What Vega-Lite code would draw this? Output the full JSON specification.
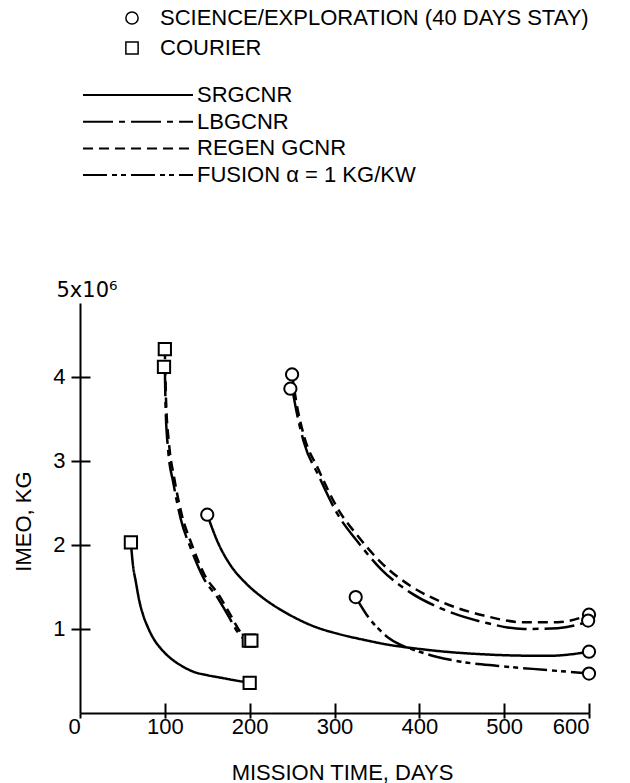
{
  "$schema": "https://vega.github.io/schema/vega-lite/v6.json",
  "autosize": "none",
  "width": 509,
  "height": 410,
  "padding": {"left": 80, "top": 303, "right": 41, "bottom": 70},
  "background": "white",
  "config": {
    "view": {"stroke": null},
    "font": "Liberation Sans",
    "axis": {
      "grid": false,
      "domainColor": "black",
      "domainWidth": 2,
      "tickColor": "black",
      "tickWidth": 2,
      "labelColor": "black",
      "titleColor": "black",
      "labelFont": "Liberation Sans",
      "titleFont": "Liberation Sans",
      "labelFontSize": 22,
      "titleFontSize": 22,
      "titleFontWeight": "normal"
    },
    "legend": {
      "labelFont": "Liberation Sans",
      "labelFontSize": 22,
      "labelColor": "black",
      "labelLimit": 0,
      "padding": 0
    }
  },
  "datasets": {
    "curves": [
      {"series": "C-SR", "engine": "SRGCNR", "days": 60, "imeo": 2.03},
      {"series": "C-SR", "engine": "SRGCNR", "days": 62, "imeo": 1.8},
      {"series": "C-SR", "engine": "SRGCNR", "days": 66, "imeo": 1.55},
      {"series": "C-SR", "engine": "SRGCNR", "days": 70, "imeo": 1.33},
      {"series": "C-SR", "engine": "SRGCNR", "days": 74, "imeo": 1.18},
      {"series": "C-SR", "engine": "SRGCNR", "days": 80, "imeo": 1.02},
      {"series": "C-SR", "engine": "SRGCNR", "days": 87, "imeo": 0.88},
      {"series": "C-SR", "engine": "SRGCNR", "days": 95, "imeo": 0.77},
      {"series": "C-SR", "engine": "SRGCNR", "days": 107, "imeo": 0.65},
      {"series": "C-SR", "engine": "SRGCNR", "days": 120, "imeo": 0.56},
      {"series": "C-SR", "engine": "SRGCNR", "days": 134, "imeo": 0.49},
      {"series": "C-SR", "engine": "SRGCNR", "days": 150, "imeo": 0.45},
      {"series": "C-SR", "engine": "SRGCNR", "days": 166, "imeo": 0.42},
      {"series": "C-SR", "engine": "SRGCNR", "days": 182, "imeo": 0.39},
      {"series": "C-SR", "engine": "SRGCNR", "days": 200, "imeo": 0.36},

      {"series": "C-RG", "engine": "REGEN GCNR", "days": 100, "imeo": 4.33},
      {"series": "C-RG", "engine": "REGEN GCNR", "days": 101.5, "imeo": 3.7},
      {"series": "C-RG", "engine": "REGEN GCNR", "days": 105, "imeo": 3.2},
      {"series": "C-RG", "engine": "REGEN GCNR", "days": 111, "imeo": 2.8},
      {"series": "C-RG", "engine": "REGEN GCNR", "days": 120, "imeo": 2.36},
      {"series": "C-RG", "engine": "REGEN GCNR", "days": 132, "imeo": 2.0},
      {"series": "C-RG", "engine": "REGEN GCNR", "days": 147, "imeo": 1.64},
      {"series": "C-RG", "engine": "REGEN GCNR", "days": 164, "imeo": 1.4},
      {"series": "C-RG", "engine": "REGEN GCNR", "days": 175, "imeo": 1.21},
      {"series": "C-RG", "engine": "REGEN GCNR", "days": 191, "imeo": 0.94},
      {"series": "C-RG", "engine": "REGEN GCNR", "days": 201, "imeo": 0.86},

      {"series": "C-LB", "engine": "LBGCNR", "days": 100, "imeo": 4.13},
      {"series": "C-LB", "engine": "LBGCNR", "days": 101, "imeo": 3.6},
      {"series": "C-LB", "engine": "LBGCNR", "days": 104, "imeo": 3.12},
      {"series": "C-LB", "engine": "LBGCNR", "days": 110, "imeo": 2.74},
      {"series": "C-LB", "engine": "LBGCNR", "days": 119, "imeo": 2.3},
      {"series": "C-LB", "engine": "LBGCNR", "days": 131, "imeo": 1.95},
      {"series": "C-LB", "engine": "LBGCNR", "days": 146, "imeo": 1.6},
      {"series": "C-LB", "engine": "LBGCNR", "days": 163, "imeo": 1.36},
      {"series": "C-LB", "engine": "LBGCNR", "days": 174, "imeo": 1.17},
      {"series": "C-LB", "engine": "LBGCNR", "days": 190, "imeo": 0.91},
      {"series": "C-LB", "engine": "LBGCNR", "days": 199, "imeo": 0.85},

      {"series": "S-SR", "engine": "SRGCNR", "days": 150, "imeo": 2.36},
      {"series": "S-SR", "engine": "SRGCNR", "days": 163, "imeo": 2.02},
      {"series": "S-SR", "engine": "SRGCNR", "days": 178, "imeo": 1.75},
      {"series": "S-SR", "engine": "SRGCNR", "days": 196, "imeo": 1.54},
      {"series": "S-SR", "engine": "SRGCNR", "days": 217, "imeo": 1.36},
      {"series": "S-SR", "engine": "SRGCNR", "days": 245, "imeo": 1.18},
      {"series": "S-SR", "engine": "SRGCNR", "days": 276, "imeo": 1.03},
      {"series": "S-SR", "engine": "SRGCNR", "days": 305, "imeo": 0.94},
      {"series": "S-SR", "engine": "SRGCNR", "days": 335, "imeo": 0.87},
      {"series": "S-SR", "engine": "SRGCNR", "days": 365, "imeo": 0.81},
      {"series": "S-SR", "engine": "SRGCNR", "days": 394, "imeo": 0.77},
      {"series": "S-SR", "engine": "SRGCNR", "days": 430, "imeo": 0.73},
      {"series": "S-SR", "engine": "SRGCNR", "days": 473, "imeo": 0.7},
      {"series": "S-SR", "engine": "SRGCNR", "days": 510, "imeo": 0.685},
      {"series": "S-SR", "engine": "SRGCNR", "days": 552, "imeo": 0.68},
      {"series": "S-SR", "engine": "SRGCNR", "days": 580, "imeo": 0.7},
      {"series": "S-SR", "engine": "SRGCNR", "days": 600, "imeo": 0.73},

      {"series": "S-FU", "engine": "FUSION α = 1 KG/KW", "days": 325, "imeo": 1.38},
      {"series": "S-FU", "engine": "FUSION α = 1 KG/KW", "days": 340, "imeo": 1.14},
      {"series": "S-FU", "engine": "FUSION α = 1 KG/KW", "days": 352, "imeo": 1.0},
      {"series": "S-FU", "engine": "FUSION α = 1 KG/KW", "days": 363, "imeo": 0.9},
      {"series": "S-FU", "engine": "FUSION α = 1 KG/KW", "days": 378, "imeo": 0.81},
      {"series": "S-FU", "engine": "FUSION α = 1 KG/KW", "days": 394, "imeo": 0.75},
      {"series": "S-FU", "engine": "FUSION α = 1 KG/KW", "days": 420, "imeo": 0.67},
      {"series": "S-FU", "engine": "FUSION α = 1 KG/KW", "days": 449, "imeo": 0.61},
      {"series": "S-FU", "engine": "FUSION α = 1 KG/KW", "days": 493, "imeo": 0.56},
      {"series": "S-FU", "engine": "FUSION α = 1 KG/KW", "days": 552, "imeo": 0.51},
      {"series": "S-FU", "engine": "FUSION α = 1 KG/KW", "days": 600, "imeo": 0.47},

      {"series": "S-RG", "engine": "REGEN GCNR", "days": 250, "imeo": 4.03},
      {"series": "S-RG", "engine": "REGEN GCNR", "days": 255, "imeo": 3.7},
      {"series": "S-RG", "engine": "REGEN GCNR", "days": 264, "imeo": 3.3},
      {"series": "S-RG", "engine": "REGEN GCNR", "days": 281, "imeo": 2.9},
      {"series": "S-RG", "engine": "REGEN GCNR", "days": 304, "imeo": 2.43},
      {"series": "S-RG", "engine": "REGEN GCNR", "days": 328, "imeo": 2.1},
      {"series": "S-RG", "engine": "REGEN GCNR", "days": 355, "imeo": 1.79},
      {"series": "S-RG", "engine": "REGEN GCNR", "days": 390, "imeo": 1.51},
      {"series": "S-RG", "engine": "REGEN GCNR", "days": 429, "imeo": 1.31},
      {"series": "S-RG", "engine": "REGEN GCNR", "days": 476, "imeo": 1.16},
      {"series": "S-RG", "engine": "REGEN GCNR", "days": 523, "imeo": 1.08},
      {"series": "S-RG", "engine": "REGEN GCNR", "days": 563, "imeo": 1.08},
      {"series": "S-RG", "engine": "REGEN GCNR", "days": 600, "imeo": 1.17},

      {"series": "S-LB", "engine": "LBGCNR", "days": 250, "imeo": 3.87},
      {"series": "S-LB", "engine": "LBGCNR", "days": 255, "imeo": 3.6},
      {"series": "S-LB", "engine": "LBGCNR", "days": 264, "imeo": 3.22},
      {"series": "S-LB", "engine": "LBGCNR", "days": 281, "imeo": 2.83},
      {"series": "S-LB", "engine": "LBGCNR", "days": 304, "imeo": 2.36},
      {"series": "S-LB", "engine": "LBGCNR", "days": 328, "imeo": 2.03},
      {"series": "S-LB", "engine": "LBGCNR", "days": 355, "imeo": 1.71},
      {"series": "S-LB", "engine": "LBGCNR", "days": 390, "imeo": 1.43},
      {"series": "S-LB", "engine": "LBGCNR", "days": 429, "imeo": 1.23},
      {"series": "S-LB", "engine": "LBGCNR", "days": 476, "imeo": 1.08},
      {"series": "S-LB", "engine": "LBGCNR", "days": 523, "imeo": 1.0},
      {"series": "S-LB", "engine": "LBGCNR", "days": 563, "imeo": 1.01},
      {"series": "S-LB", "engine": "LBGCNR", "days": 600, "imeo": 1.09}
    ],
    "markers": [
      {"mission": "SCIENCE/EXPLORATION (40 DAYS STAY)", "days": 250, "imeo": 4.03},
      {"mission": "SCIENCE/EXPLORATION (40 DAYS STAY)", "days": 248, "imeo": 3.86},
      {"mission": "SCIENCE/EXPLORATION (40 DAYS STAY)", "days": 600, "imeo": 1.17},
      {"mission": "SCIENCE/EXPLORATION (40 DAYS STAY)", "days": 599, "imeo": 1.1},
      {"mission": "SCIENCE/EXPLORATION (40 DAYS STAY)", "days": 150, "imeo": 2.36},
      {"mission": "SCIENCE/EXPLORATION (40 DAYS STAY)", "days": 600, "imeo": 0.73},
      {"mission": "SCIENCE/EXPLORATION (40 DAYS STAY)", "days": 325, "imeo": 1.38},
      {"mission": "SCIENCE/EXPLORATION (40 DAYS STAY)", "days": 600, "imeo": 0.47},
      {"mission": "COURIER", "days": 100, "imeo": 4.33},
      {"mission": "COURIER", "days": 99, "imeo": 4.12},
      {"mission": "COURIER", "days": 199, "imeo": 0.86},
      {"mission": "COURIER", "days": 202, "imeo": 0.86},
      {"mission": "COURIER", "days": 60, "imeo": 2.03},
      {"mission": "COURIER", "days": 200, "imeo": 0.36}
    ]
  },
  "layer": [
    {
      "data": {"name": "curves"},
      "mark": {"type": "line", "interpolate": "monotone", "strokeWidth": 2.5, "color": "black", "strokeCap": "butt"},
      "encoding": {
        "x": {
          "field": "days", "type": "quantitative",
          "scale": {"domain": [0, 600], "nice": false},
          "axis": {
            "orient": "bottom",
            "values": [0, 100, 200, 300, 400, 500, 600],
            "tickSize": 5,
            "labelPadding": -2,
            "labelOffset": {"condition": {"test": "datum.value === 0", "value": -12}, "value": 0},
            "title": "MISSION TIME, DAYS",
            "titleX": 262,
            "titleY": 59,
            "titleBaseline": "middle"
          }
        },
        "y": {
          "field": "imeo", "type": "quantitative",
          "scale": {"domain": [0, 4.88], "nice": false, "zero": true},
          "axis": {
            "orient": "left",
            "values": [1, 2, 3, 4],
            "tickSize": 9,
            "labelPadding": 6,
            "title": "IMEO, KG",
            "titleX": -57,
            "titleY": 218,
            "titleBaseline": "middle",
            "titleAngle": -90
          }
        },
        "strokeDash": {
          "field": "engine", "type": "nominal",
          "scale": {
            "domain": ["SRGCNR", "LBGCNR", "REGEN GCNR", "FUSION α = 1 KG/KW"],
            "range": [[1, 0], [30, 6, 6, 6], [10, 6], [24, 5, 5, 4, 5, 5]]
          },
          "legend": {
            "title": null,
            "orient": "none",
            "legendX": 2,
            "legendY": -219,
            "symbolType": "stroke",
            "symbolSize": 12100,
            "symbolStrokeColor": "black",
            "symbolStrokeWidth": 2,
            "clipHeight": 22,
            "rowPadding": 4.7,
            "labelOffset": 3
          }
        },
        "detail": {"field": "series", "type": "nominal"}
      }
    },
    {
      "data": {"name": "markers"},
      "mark": {"type": "point", "filled": true, "fill": "white", "stroke": "black", "strokeWidth": 2, "opacity": 1, "size": 150},
      "encoding": {
        "x": {
          "field": "days", "type": "quantitative",
          "axis": {
            "orient": "bottom",
            "values": [100, 200, 300, 400, 500, 600],
            "tickSize": -10,
            "labels": false,
            "domain": false,
            "title": null
          }
        },
        "y": {
          "field": "imeo", "type": "quantitative",
          "axis": {
            "orient": "left",
            "values": [1, 2, 3, 4],
            "tickSize": -10,
            "labels": false,
            "domain": false,
            "title": "5x10⁶",
            "titleFont": "DejaVu Sans",
            "titleFontSize": 21,
            "titleAngle": 0,
            "titleAlign": "left",
            "titleBaseline": "middle",
            "titleX": -24,
            "titleY": -13
          }
        },
        "shape": {
          "field": "mission", "type": "nominal",
          "scale": {
            "domain": ["SCIENCE/EXPLORATION (40 DAYS STAY)", "COURIER"],
            "range": ["circle", "square"]
          },
          "legend": {
            "title": null,
            "orient": "none",
            "legendX": 41,
            "legendY": -296,
            "symbolSize": 150,
            "rowPadding": 8,
            "labelOffset": 17,
            "encode": {
              "symbols": {
                "update": {
                  "fill": {"value": "white"},
                  "stroke": {"value": "black"},
                  "strokeWidth": {"value": 2},
                  "opacity": {"value": 1}
                }
              }
            }
          }
        }
      }
    }
  ],
  "resolve": {"axis": {"x": "independent", "y": "independent"}}
}
